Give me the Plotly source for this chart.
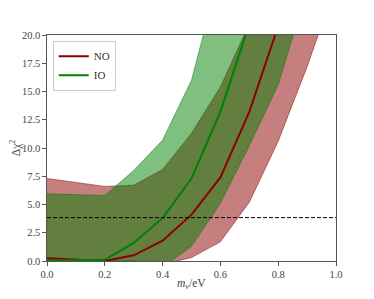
import plotly.graph_objects as go

# Data
m_nu = [0.0, 0.2, 0.3, 0.4, 0.5, 0.6, 0.7, 0.8, 0.9, 1.0]

no_central = [0.25, 0.0, 0.5, 1.8, 4.1, 7.4, 13.2, 20.4, 28.0, 36.0]
no_upper = [7.3, 6.6, 6.7, 8.1, 11.3, 15.4, 21.0, 28.0, 36.0, 45.0]
no_lower = [0.0, 0.0, 0.0, -0.3, 0.3, 1.7, 5.2, 10.6, 17.2, 24.5]

io_central = [0.05, 0.1, 1.6, 3.8, 7.3, 13.2, 21.0, 30.0, 40.0, 50.0]
io_upper = [5.95, 5.8, 8.0, 10.7, 16.0, 25.0, 35.0, 45.0, 55.0, 65.0]
io_lower = [0.0, 0.0, 0.0, -0.6, 1.3, 5.1, 10.2, 15.6, 24.0, 33.0]

threshold = 3.84
x_ticks = [0.0, 0.2, 0.4, 0.6, 0.8, 1.0]
y_ticks = [0.0, 2.5, 5.0, 7.5, 10.0, 12.5, 15.0, 17.5, 20.0]
x_title = "<i>m</i><sub>ν</sub>/eV"
y_title = "Δχ<sup>2</sup>"

RED = "#8B0000"
GREEN = "#008000"
RED_FILL = "rgba(139,0,0,0.5)"
GREEN_FILL = "rgba(0,128,0,0.5)"
FONT = "Liberation Serif"

fig = go.Figure()


def band(upper, lower, fillc):
    return go.Scatter(
        x=m_nu + m_nu[::-1],
        y=upper + lower[::-1],
        fill="toself",
        fillcolor=fillc,
        line=dict(color=fillc, width=1),
        mode="lines",
        hoverinfo="skip",
        showlegend=False,
    )


fig.add_trace(band(no_upper, no_lower, RED_FILL))
fig.add_trace(band(io_upper, io_lower, GREEN_FILL))

fig.add_trace(go.Scatter(x=m_nu, y=no_central, mode="lines", name="NO",
                         line=dict(color=RED, width=2)))
fig.add_trace(go.Scatter(x=m_nu, y=io_central, mode="lines", name="IO",
                         line=dict(color=GREEN, width=2)))

fig.add_trace(go.Scatter(x=[x_ticks[0], x_ticks[-1]], y=[threshold, threshold],
                         mode="lines", line=dict(color="black", width=1, dash="4px,2px"),
                         showlegend=False, hoverinfo="skip"))

axis_common = dict(
    showline=True, mirror=True, linecolor="#555", linewidth=1.2,
    ticks="outside", ticklen=3.5, tickcolor="#555", tickwidth=1,
    showgrid=False, zeroline=False, automargin=False,
    tickfont=dict(family=FONT, size=10.5, color="#444"),
)

fig.update_xaxes(range=[0, 1], tickvals=x_ticks, tickformat=".1f", **axis_common)
fig.update_yaxes(range=[0, 20], tickvals=y_ticks, tickformat=".1f", **axis_common)

title_font = dict(family=FONT, size=11.5, color="#444")
fig.add_annotation(text=x_title, xref="paper", yref="paper", x=0.5, y=-0.1,
                   xanchor="center", yanchor="middle", showarrow=False, font=title_font)
fig.add_annotation(text=y_title, xref="paper", yref="paper", x=-0.11, y=0.5,
                   xanchor="center", yanchor="middle", textangle=-90,
                   showarrow=False, font=title_font)

fig.update_layout(
    width=366, height=291,
    margin=dict(l=39, r=38, t=27, b=38),
    plot_bgcolor="white", paper_bgcolor="white",
    legend=dict(x=0.02, y=0.975, xanchor="left", yanchor="top",
                bgcolor="rgba(255,255,255,0.8)", bordercolor="#ccc", borderwidth=1,
                font=dict(family=FONT, size=11, color="#333"),
                itemwidth=30, tracegroupgap=0),
    showlegend=True,
)

fig.write_html("out.html")
